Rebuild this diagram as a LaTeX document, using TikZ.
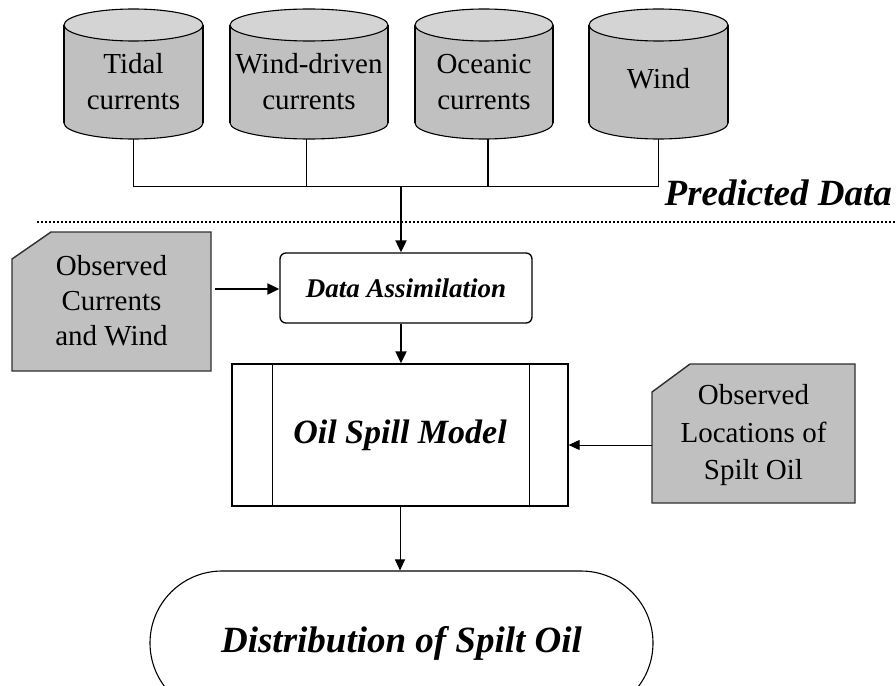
\documentclass[tikz,border=0pt]{standalone}
\usepackage{fontspec}
\setmainfont{Liberation Serif}
\usetikzlibrary{shapes.misc,arrows.meta}
\definecolor{bodygray}{HTML}{C0C0C0}
\definecolor{topgray}{HTML}{D4D4D4}
\definecolor{edgegray}{HTML}{303030}
\tikzset{
  cylline/.style={draw=black, line width=1.1pt},
  cyltext/.style={font=\fontsize{29}{36}\selectfont, align=center, inner sep=0pt},
  obsbox/.style={fill=bodygray, draw=edgegray, line width=1.4pt},
  obstextA/.style={font=\fontsize{29}{35}\selectfont, align=center, inner sep=0pt},
  obstextB/.style={font=\fontsize{29}{37.5}\selectfont, align=center, inner sep=0pt},
  boxline/.style={draw=black, line width=1.3pt},
  conn/.style={line width=1pt},
  thickconn/.style={line width=2pt},
  bigarr/.style={-{Triangle[length=12pt,width=11pt]}, line width=2pt},
  thinarr/.style={-{Triangle[length=11pt,width=10pt]}, line width=1pt},
  dotline/.style={line width=1.6pt, dash pattern=on 2pt off 2pt},
  bi/.style={font=\fontsize{#1}{#1}\selectfont\bfseries\itshape}
}
\newcommand{\drawcylinder}[2]{%
  \pgfmathsetmacro\cylcx{(#1+#2)/2}%
  \pgfmathsetmacro\cylrx{(#2-#1)/2}%
  \fill[bodygray] (#1,25) rectangle (#2,123);
  \fill[bodygray] (\cylcx,123) ellipse[x radius=\cylrx pt, y radius=16pt];
  \begin{scope}
    \clip (#1-3,123) rectangle (#2+3,145);
    \draw[cylline] (\cylcx,123) ellipse[x radius=\cylrx pt, y radius=16pt];
  \end{scope}
  \draw[cylline] (#1,25) -- (#1,123) (#2,25) -- (#2,123);
  \filldraw[cylline, fill=topgray] (\cylcx,25) ellipse[x radius=\cylrx pt, y radius=16pt];
}
\begin{document}
\begin{tikzpicture}[x=1pt,y=-1pt]
\useasboundingbox (0,0) rectangle (896,685);

% cylinders
\drawcylinder{64}{203}
\drawcylinder{230}{388}
\drawcylinder{415}{553}
\drawcylinder{589}{728}
\node[cyltext] (tidal) at (133.5,82) {Tidal\\currents};
\node[cyltext] (winddriven) at (309,82) {Wind-driven\\currents};
\node[cyltext] (oceanic) at (484,82) {Oceanic\\currents};
\node[cyltext] (wind) at (658.5,79) {Wind};
\coordinate (tidalb) at (133,139);
\coordinate (winddrivenb) at (306,139);
\coordinate (oceanicb) at (488,139);
\coordinate (windb) at (658.5,139);
\coordinate (bus) at (401,186);

% predicted data
\node[bi=37, anchor=base east, inner sep=0pt] (pd) at (892,205) {Predicted Data};
\coordinate (dotl) at (37,222);
\coordinate (dotr) at (896,222);
\draw[dotline] (dotl) -- (dotr);

% observed currents and wind
\filldraw[obsbox] (12,259) -- (51,232) -- (211,232) -- (211,371) -- (12,371) -- cycle;
\node[obstextA] (oc) at (111.5,301) {Observed\\Currents\\and Wind};
\coordinate (ocE) at (215,289);

% data assimilation
\node[boxline, rounded corners=6pt, minimum width=252pt, minimum height=70pt, inner sep=0pt, bi=27] (da) at (406,288) {Data Assimilation};

% oil spill model
\node[boxline, minimum width=336pt, minimum height=142pt, inner sep=0pt, bi=34] (osm) at (400,435) {Oil Spill Model};
\draw[boxline] ([xshift=41pt]osm.north west) -- ([xshift=41pt]osm.south west);
\draw[boxline] ([xshift=-39pt]osm.north east) -- ([xshift=-39pt]osm.south east);

% observed locations
\filldraw[obsbox] (652,392) -- (690,364) -- (855,364) -- (855,503) -- (652,503) -- cycle;
\node[obstextB] (ol) at (753.5,435.5) {Observed\\Locations of\\Spilt Oil};
\coordinate (olW) at (652,445);

% distribution
\node[rounded rectangle, draw=black, line width=1.1pt, minimum width=503pt, minimum height=144pt, inner sep=0pt, bi=37] (dist) at (401.5,643) {Distribution of Spilt Oil};

% connectors
\draw[conn] (tidalb) |- (windb |- bus) -- (windb);
\draw[conn] (winddrivenb) -- (winddrivenb |- bus);
\draw[thickconn] (oceanicb) -- (oceanicb |- bus);
\draw[bigarr] (bus) -- (bus |- da.north);
\draw[bigarr] (ocE) -- (ocE -| da.west);
\draw[bigarr] (da.south -| bus) -- (bus |- osm.north);
\draw[thinarr] (olW) -- (olW -| osm.east);
\draw[thinarr] (osm.south) -- (osm.south |- dist.north);
\end{tikzpicture}
\end{document}
